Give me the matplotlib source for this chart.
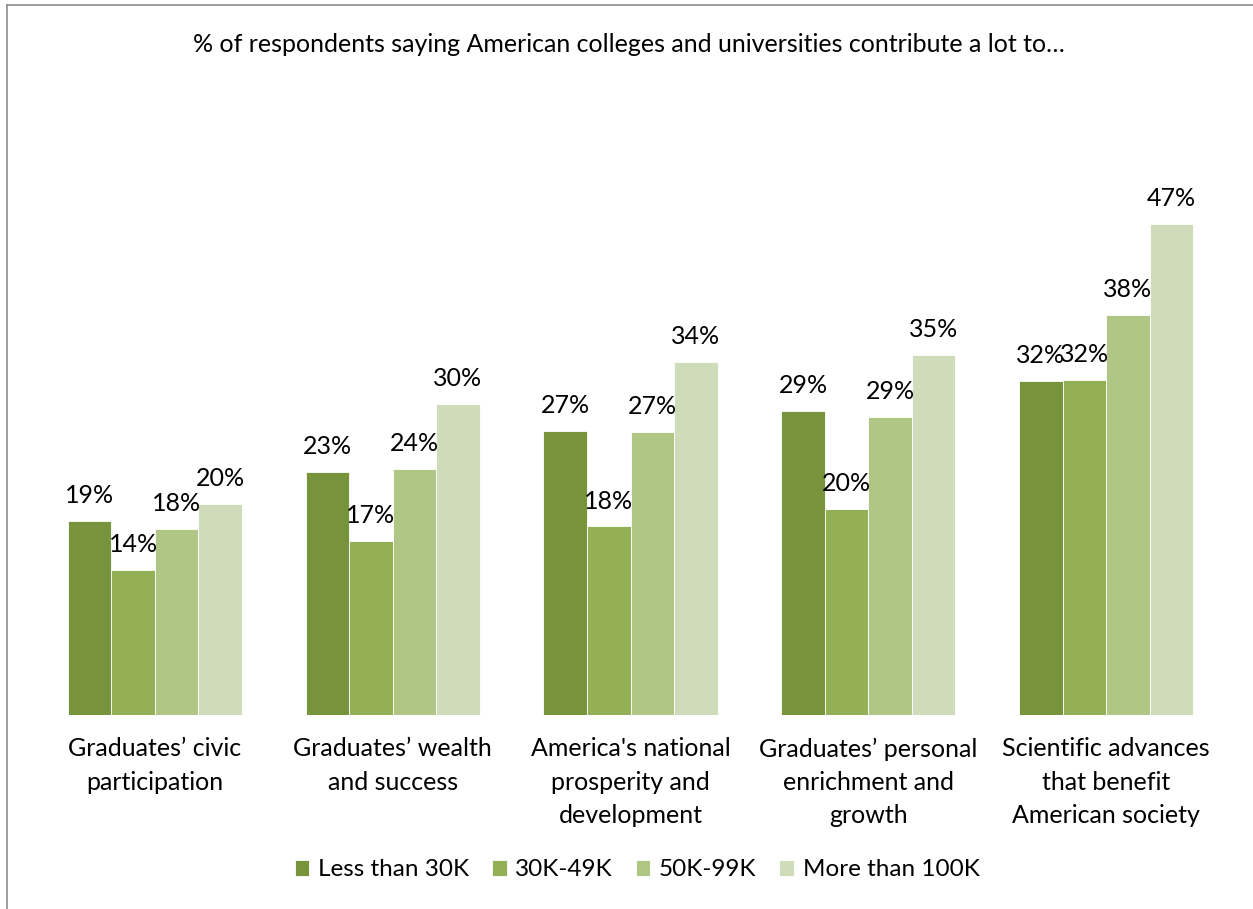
import matplotlib
matplotlib.use("Agg")
import matplotlib.pyplot as plt
from matplotlib.lines import Line2D
import numpy as np

plt.rcParams['font.family'] = ['Lato', 'DejaVu Sans']

categories = ["Graduates’ civic\nparticipation",
              "Graduates’ wealth\nand success",
              "America's national\nprosperity and\ndevelopment",
              "Graduates’ personal\nenrichment and\ngrowth",
              "Scientific advances\nthat benefit\nAmerican society"]
series_names = ["Less than 30K", "30K-49K", "50K-99K", "More than 100K"]
less_30k = [18.6, 23.3, 27.3, 29.2, 32.1]
k30_49 = [13.9, 16.7, 18.1, 19.8, 32.2]
k50_99 = [17.9, 23.6, 27.2, 28.6, 38.4]
more_100k = [20.3, 29.9, 33.9, 34.6, 47.1]
title = "% of respondents saying American colleges and universities contribute a lot to…"

colors = ['#77933C', '#93B056', '#AFC685', '#CFDCB9']
series = [less_30k, k30_49, k50_99, more_100k]

FS = 18
W, H = 1253, 909
fig = plt.figure(figsize=(W / 100, H / 100), dpi=100)
ax = fig.add_axes([36 / W, (H - 715) / H, (1225 - 36) / W, (715 - 90) / H])

x = np.arange(len(categories))
bw = 0.183
for i, (vals, c, name) in enumerate(zip(series, colors, series_names)):
    pos = x + (i - 1.5) * bw
    bars = ax.bar(pos, vals, width=bw, color=c, edgecolor='white', linewidth=0.6, label=name)
    for b, v in zip(bars, vals):
        ax.annotate(f"{v:.0f}%", (b.get_x() + b.get_width() / 2, v),
                    xytext=(0, 10), textcoords='offset points',
                    ha='center', va='bottom', fontsize=FS, color='#000000')

ax.set_xlim(-0.5, len(categories) - 0.5)
ax.set_ylim(0, 60)
ax.set_yticks([])
ax.set_xticks(x)
ax.set_xticklabels(categories, fontsize=FS, linespacing=1.55)
ax.tick_params(axis='x', length=0, pad=16)
for s in ax.spines.values():
    s.set_visible(False)

fig.text(629 / W, 1 - 45 / H, title, ha='center', va='center', fontsize=FS)

fig.legend(loc='center', bbox_to_anchor=(637 / W, 1 - 870 / H), ncol=4,
           frameon=False, fontsize=17.5, handlelength=0.6, handleheight=0.6,
           handletextpad=0.35, columnspacing=0.95)

# chart border (left and top)
fig.add_artist(Line2D([6.5 / W, 6.5 / W], [0, 1 - 5 / H], color='#8C8C8C', lw=1.2, transform=fig.transFigure))
fig.add_artist(Line2D([6.5 / W, 1], [1 - 5 / H, 1 - 5 / H], color='#8C8C8C', lw=1.2, transform=fig.transFigure))

fig.savefig("out.png", dpi=100, facecolor='white')
